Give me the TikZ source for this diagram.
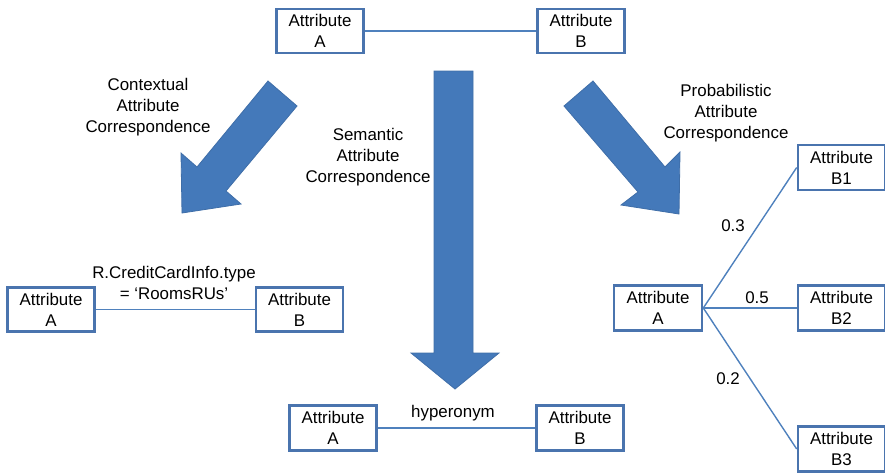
\documentclass[tikz,border=0pt]{standalone}
\usepackage{fontspec}
\setmainfont{Liberation Sans}
\definecolor{boxblue}{HTML}{4A74AE}
\definecolor{lineblue}{HTML}{4F81BD}
\definecolor{arrowfill}{HTML}{4479BA}
\definecolor{arrowedge}{HTML}{3F6EA8}
\begin{document}
\begin{tikzpicture}[x=1pt,y=-1pt,
  attrbox/.style={draw=boxblue, line width=2.6pt, fill=white, minimum width=87pt, minimum height=44pt,
    inner sep=0pt, align=center, font=\fontsize{16.9}{20.8}\selectfont},
  link/.style={draw=lineblue, line width=1.4pt},
  lbl/.style={align=center, inner sep=0pt, font=\fontsize{16.9}{20.8}\selectfont},
  bigarrow/.style={fill=arrowfill, draw=arrowedge, line width=0.8pt, line join=miter}]
\useasboundingbox (0,0) rectangle (885,472);

% big arrows
\draw[bigarrow] (268,81) -- (297,106) -- (226,191) -- (241,204) -- (182,213) -- (181,153) -- (197,167) -- cycle;
\draw[bigarrow] (434,71) -- (473,71) -- (473,353) -- (499,353) -- (455,389) -- (411,353) -- (434,353) -- cycle;
\draw[bigarrow] (593,81) -- (564,106) -- (638,192) -- (621,205) -- (679,214) -- (680,152) -- (665,167) -- cycle;

% arrow labels
\node[lbl] (ctx) at (148,107) {Contextual\\Attribute\\Correspondence};
\node[lbl] (sem) at (368,157) {Semantic\\Attribute\\Correspondence};
\node[lbl] (prob) at (726,113) {Probabilistic\\Attribute\\Correspondence};

% top pair
\node[attrbox] (topA) at (320,31) {Attribute\\A};
\node[attrbox] (topB) at (581,31) {Attribute\\B};
\draw[link] (topA) -- (topB);

% left pair
\node[attrbox] (leftA) at (51,309.5) {Attribute\\A};
\node[attrbox] (leftB) at (299.5,309.5) {Attribute\\B};
\draw[link] (leftA) -- (leftB);
\node[lbl] (ccinfo) at (174,283) {R.CreditCardInfo.type\\= ‘RoomsRUs’};

% bottom pair
\node[attrbox, minimum height=45pt] (botA) at (333,428) {Attribute\\A};
\node[attrbox, minimum height=45pt] (botB) at (580,428) {Attribute\\B};
\draw[link] (botA) -- (botB);
\node[lbl] (hyp) at (453,413) {hyperonym};

% right fan
\node[attrbox, minimum height=45pt, minimum width=88pt] (rA) at (658,308) {Attribute\\A};
\node[attrbox, minimum height=45pt] (rB1) at (841.5,167.5) {Attribute\\B1};
\node[attrbox, minimum height=45pt] (rB2) at (841.5,308) {Attribute\\B2};
\node[attrbox, minimum height=45pt] (rB3) at (841.5,449) {Attribute\\B3};
\draw[link] (rA.east) -- (rB1.west);
\draw[link] (rA.east) -- (rB2.west);
\draw[link] (rA.east) -- (rB3.west);
\node[lbl] (p3) at (733,226) {0.3};
\node[lbl] (p5) at (757,298) {0.5};
\node[lbl] (p2) at (728,379) {0.2};
\end{tikzpicture}
\end{document}
